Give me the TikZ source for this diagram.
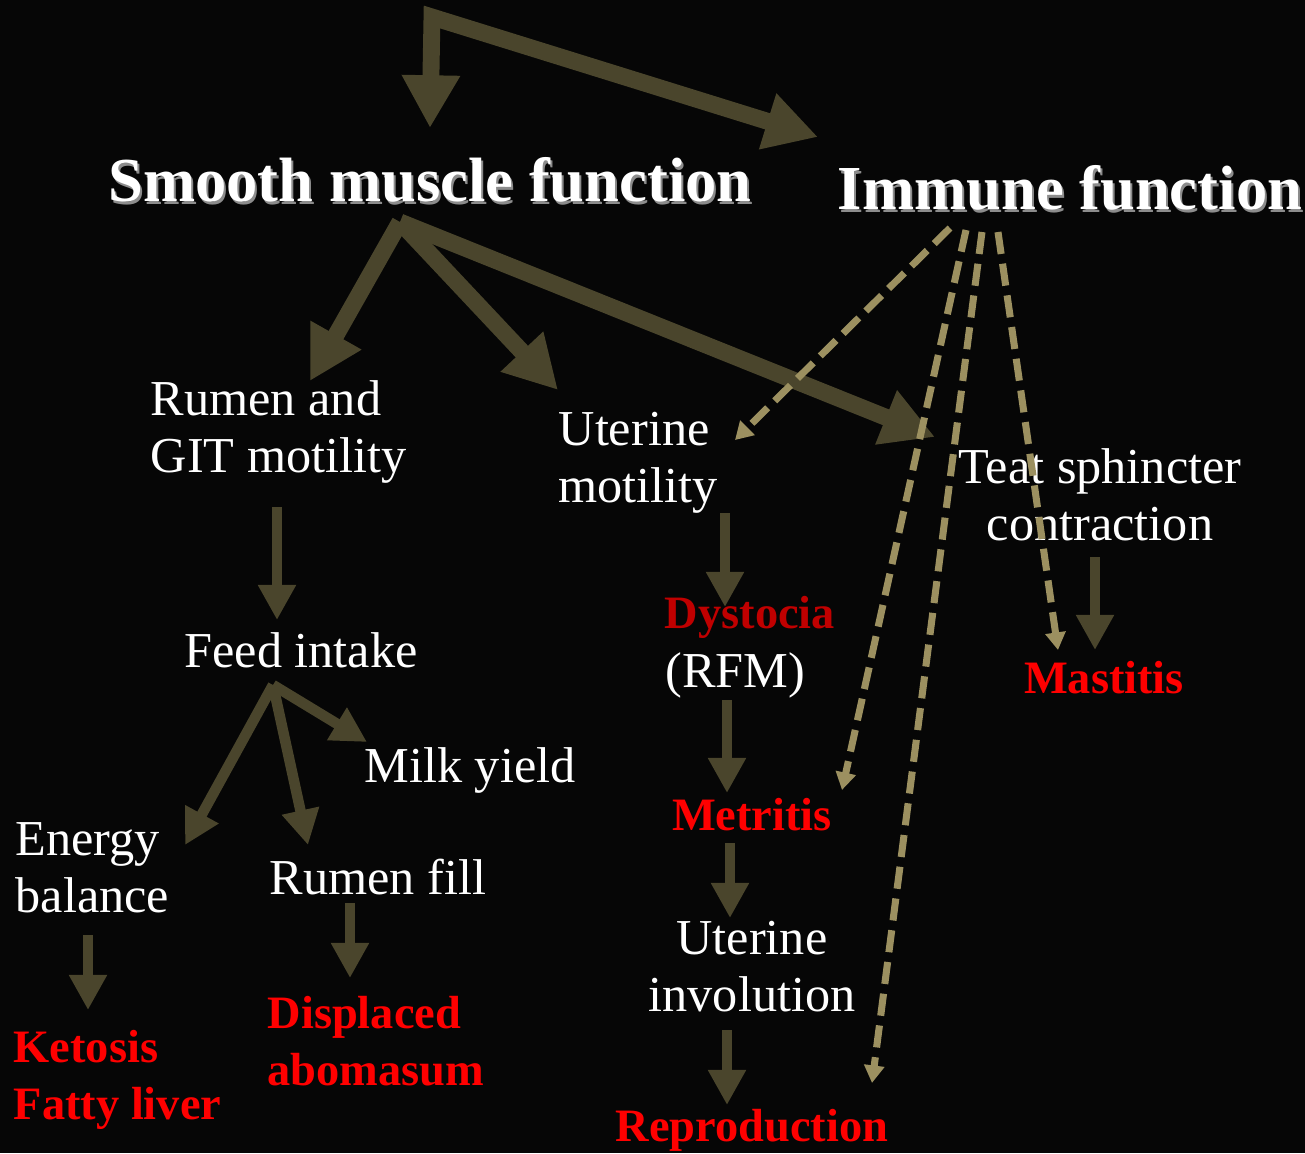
\documentclass[tikz,border=0pt]{standalone}
\usepackage{fontspec}
\setmainfont{Liberation Serif}
\usetikzlibrary{arrows.meta}

\definecolor{arrowolive}{RGB}{74,69,44}
\definecolor{dashtan}{RGB}{156,144,96}
\definecolor{bgblack}{RGB}{6,6,6}
\definecolor{dystred}{RGB}{192,0,0}

\tikzset{
  bigtip/.tip={Triangle[width=15.6pt,length=15pt]},
  smalltip/.tip={Triangle[width=10.2pt,length=10pt]},
  dashtip/.tip={Triangle[width=5.6pt,length=5pt]}
}

\begin{document}
\begin{tikzpicture}[
      x=0.01cm,y=-0.01cm,
      every node/.style={text=white,inner sep=0pt,font=\fontsize{14.3}{16.2}\selectfont},
      title/.style={font=\bfseries\fontsize{17.8}{20}\selectfont},
      shade/.style={title,text=black!45},
      sick/.style={text=red,align=left,font=\bfseries\fontsize{13.2}{16.2}\selectfont},
      bigarr/.style={draw=arrowolive,line width=4.8pt,line join=miter,-bigtip},
      smallarr/.style={draw=arrowolive,line width=3pt,-smalltip},
      immarr/.style={draw=dashtan,line width=2pt,dash pattern=on 6.3pt off 2.8pt,-dashtip}
    ]
    % background
    \fill[bgblack] (0,0) rectangle (1305,1153);
    \useasboundingbox (0,0) rectangle (1305,1153);
    % titles (with drop shadow)
    \node[shade] (smfshadow) at (432,183) {Smooth muscle function};
    \node[shade] (immshadow) at (1072,191) {Immune function};
    \node[title] (smf) at (430,180) {Smooth muscle function};
    \node[title] (imm) at (1070,188) {Immune function};
    % smooth muscle branch
    \node[anchor=west,align=left] (rumen) at (150,432) {Rumen and\\GIT motility};
    \node[anchor=west,align=left] (uter) at (558,463) {Uterine\\motility};
    \node[align=center] (teat) at (1100,495) {Teat sphincter\\contraction};
    \node (feed) at (301,650) {Feed intake};
    \node (milk) at (470,770) {Milk yield};
    \node[anchor=west,align=left] (energy) at (15,868) {Energy\\balance};
    \node (rfill) at (378,877) {Rumen fill};
    \node[sick,anchor=west] (ketosis) at (13,1080) {Ketosis\\Fatty liver};
    \node[sick,anchor=west] (displaced) at (267,1041) {Displaced\\abomasum};
    \node[sick,text=dystred] (dyst) at (750,617) {Dystocia};
    \node[anchor=west] (rfm) at (665,675) {(RFM)};
    \node[sick] (metritis) at (752,815) {Metritis};
    \node[align=center] (invol) at (752,967) {Uterine\\involution};
    \node[sick] (repro) at (752,1130) {Reproduction};
    \node[sick] (mastitis) at (1104,678) {Mastitis};
    % arrow ends
    \coordinate (corner) at (432,17);
    \coordinate (smfin) at (430,128);
    \coordinate (immin) at (818,137);
    \coordinate (smfhub) at (400,222);
    \coordinate (rumenin) at (310,381);
    \coordinate (uterin) at (558,390);
    \coordinate (teatin) at (935,437);
    \coordinate (feedhub) at (273,685);
    \coordinate (energyin) at (185,845);
    \coordinate (rfillin) at (308,845);
    \coordinate (milkin) at (367,742);
    % top split arrow
    \draw[bigarr,bigtip-bigtip] (smfin) -- (corner) -- (immin);
    \draw[bigarr] (smfhub) -- (rumenin);
    \draw[bigarr] (smfhub) -- (uterin);
    \draw[bigarr] (smfhub) -- (teatin);
    \draw[smallarr] (feedhub) -- (energyin);
    \draw[smallarr] (feedhub) -- (rfillin);
    \draw[smallarr] (feedhub) -- (milkin);
    % downward steps
    \coordinate (rumenout) at (277,507);
    \coordinate (feedin) at (277,620);
    \coordinate (uterout) at (725,513);
    \coordinate (dystin) at (725,607);
    \coordinate (rfmout) at (727,700);
    \coordinate (metin) at (727,793);
    \coordinate (metout) at (730,843);
    \coordinate (involin) at (730,918);
    \coordinate (involout) at (727,1030);
    \coordinate (reproin) at (727,1105);
    \coordinate (teatout) at (1095,557);
    \coordinate (mastin) at (1095,650);
    \coordinate (energyout) at (88,935);
    \coordinate (ketin) at (88,1010);
    \coordinate (rfillout) at (350,903);
    \coordinate (dispin) at (350,978);
    \draw[smallarr] (rumenout) -- (feedin);
    \draw[smallarr] (uterout) -- (dystin);
    \draw[smallarr] (rfmout) -- (metin);
    \draw[smallarr] (metout) -- (involin);
    \draw[smallarr] (involout) -- (reproin);
    \draw[smallarr] (teatout) -- (mastin);
    \draw[smallarr] (energyout) -- (ketin);
    \draw[smallarr] (rfillout) -- (dispin);
    % immune links
    \coordinate (immout1) at (950,228);
    \coordinate (immout2) at (966,230);
    \coordinate (immout3) at (982,232);
    \coordinate (immout4) at (998,232);
    \coordinate (uterimm) at (735,440);
    \coordinate (metimm) at (842,790);
    \coordinate (reproimm) at (872,1083);
    \coordinate (mastimm) at (1058,650);
    \draw[immarr] (immout1) -- (uterimm);
    \draw[immarr] (immout2) -- (metimm);
    \draw[immarr] (immout3) -- (reproimm);
    \draw[immarr] (immout4) -- (mastimm);
  \end{tikzpicture}
\end{document}
